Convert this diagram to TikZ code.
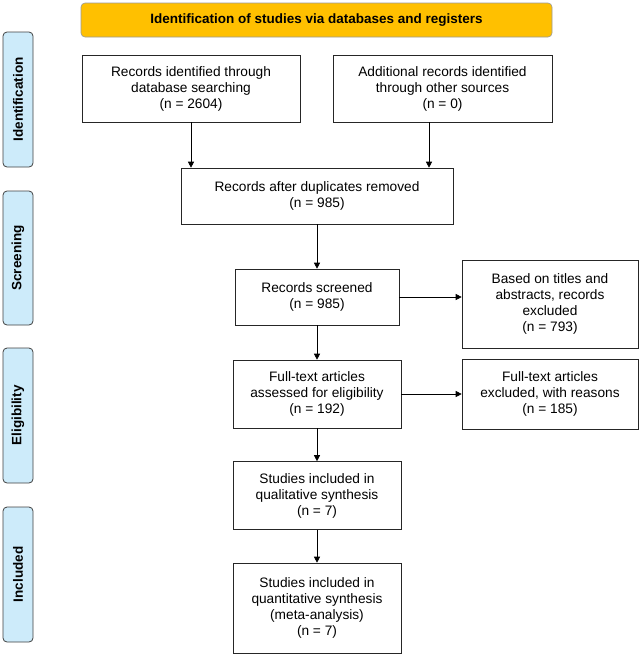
\documentclass[tikz,border=0pt]{standalone}
\usepackage{fontspec}
\setmainfont{Liberation Sans}
\usetikzlibrary{arrows.meta}
\definecolor{bannerYellow}{HTML}{FFC000}
\definecolor{phaseBlue}{HTML}{CDEBFA}
\begin{document}
\begin{tikzpicture}[x=1pt, y=-1pt,
    box/.style={draw=black!85, semithick, align=center, font=\fontsize{13.7}{16}\selectfont, inner sep=0pt},
    phase/.style={draw=black!75, thick, rounded corners=4pt, fill=phaseBlue},
    tag/.style={font=\fontsize{13.5}{16}\selectfont\bfseries},
    flow/.style={-{Triangle[length=6pt,width=6pt]}, semithick}]
  \useasboundingbox (0,0) rectangle (641,657);
  % banner
  \draw[draw=black!40, semithick, rounded corners=4pt, fill=bannerYellow] (81,3) rectangle (552,37);
  \node[tag] (head) at (316.5,20) {Identification of studies via databases and registers};
  % phases
  \draw[phase] (3,32) rectangle (33,167);
  \node[tag, rotate=90] (pid) at (18,99.5) {Identification};
  \draw[phase] (3,191) rectangle (33,325);
  \node[tag, rotate=90] (psc) at (18,258) {Screening};
  \draw[phase] (3,348) rectangle (33,483);
  \node[tag, rotate=90] (pel) at (18,415.5) {Eligibility};
  \draw[phase] (3,507) rectangle (33,642);
  \node[tag, rotate=90] (pin) at (18,574.5) {Included};
  % boxes
  \node[box, minimum width=218pt, minimum height=67pt] (db) at (191,88.5) {Records identified through\\database searching\\(n = 2604)};
  \node[box, minimum width=219pt, minimum height=67pt] (other) at (442.5,88.5) {Additional records identified\\through other sources\\(n = 0)};
  \node[box, minimum width=272pt, minimum height=56pt] (dup) at (317,196) {Records after duplicates removed\\(n = 985)};
  \node[box, minimum width=164pt, minimum height=56pt] (scr) at (317,297) {Records screened\\(n = 985)};
  \node[box, minimum width=176pt, minimum height=88pt] (exc) at (550,304) {Based on titles and\\abstracts, records\\excluded\\(n = 793)};
  \node[box, minimum width=168pt, minimum height=68pt] (full) at (317,394) {Full-text articles\\assessed for eligibility\\(n = 192)};
  \node[box, minimum width=176pt, minimum height=70pt] (fexc) at (550,394) {Full-text articles\\excluded, with reasons\\(n = 185)};
  \node[box, minimum width=168pt, minimum height=68pt] (qual) at (317,495.5) {Studies included in\\qualitative synthesis\\(n = 7)};
  \node[box, minimum width=168pt, minimum height=90pt] (quant) at (317,608) {Studies included in\\quantitative synthesis\\(meta-analysis)\\(n = 7)};
  % connectors
  \draw[flow] (db.south) -- (db.south |- dup.north);
  \draw[flow] (other.south -| 429,0) -- (429,0 |- dup.north);
  \draw[flow] (dup) -- (scr);
  \draw[flow] (scr) -- (exc.west |- scr);
  \draw[flow] (scr) -- (full);
  \draw[flow] (full) -- (fexc);
  \draw[flow] (full) -- (qual);
  \draw[flow] (qual) -- (quant);
\end{tikzpicture}
\end{document}
